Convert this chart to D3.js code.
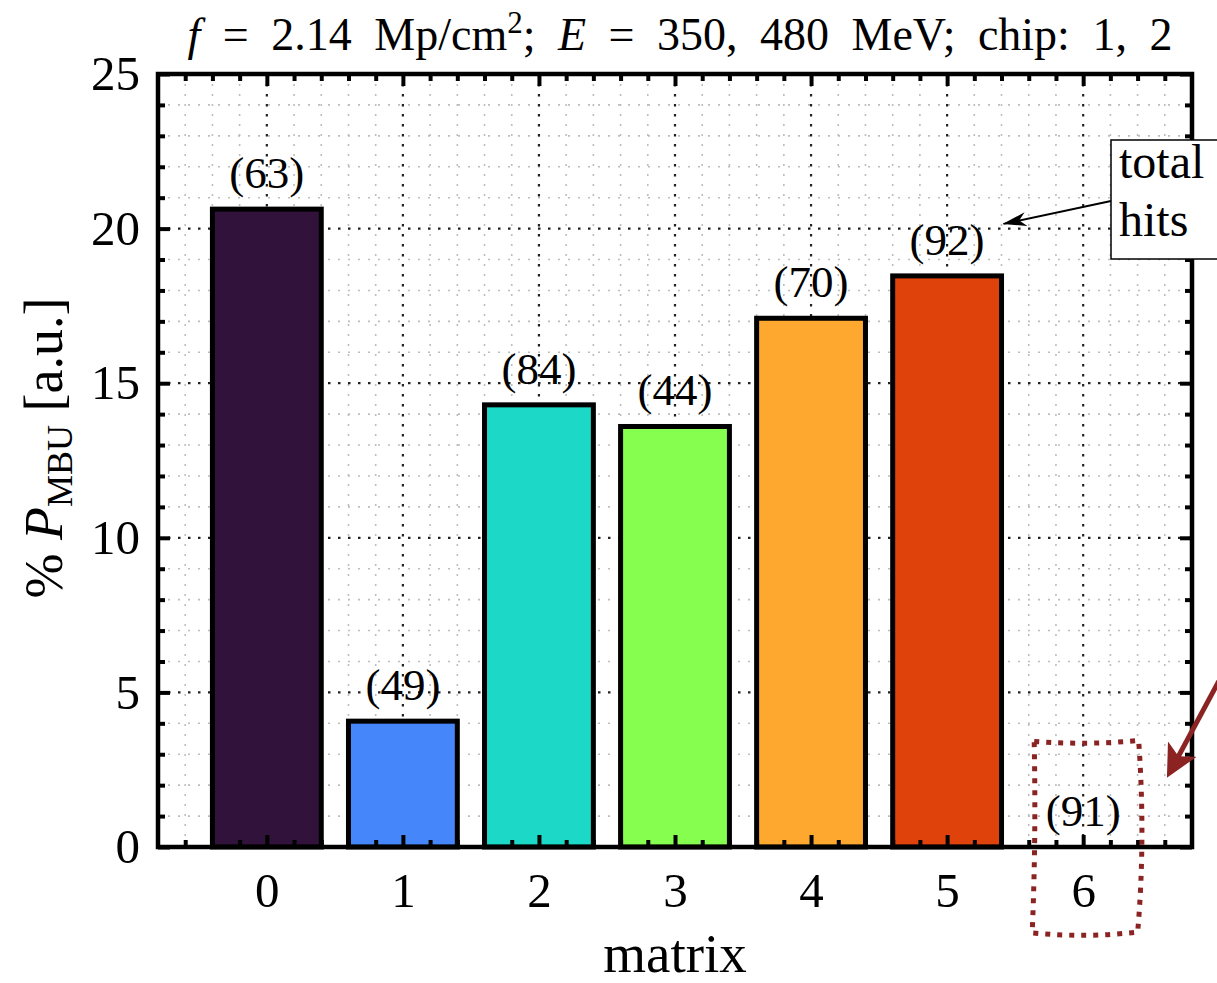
<!DOCTYPE html>
<html>
<head>
<meta charset="utf-8">
<script src="https://cdn.jsdelivr.net/npm/d3@7"></script>
<style>
  body { margin: 0; background: #fff; }
  text { font-family: "Liberation Serif", "DejaVu Serif", serif; fill: #000; }
</style>
</head>
<body>
<div id="chart"></div>
<script>
// Data
const matrices = [0, 1, 2, 3, 4, 5, 6];
const pMbu = [20.63, 4.07, 14.3, 13.6, 17.1, 18.47, 0];
const totalHits = [63, 49, 84, 44, 70, 92, 91];
const barColors = ["#30123b", "#4686fb", "#1bd9c6", "#86fe4f", "#fea82f", "#e0420c", "#7a0403"];
const yTicks = [0, 5, 10, 15, 20, 25];

const W = 1217, H = 983;
const margin = { top: 74, right: 25, bottom: 136, left: 158 };
const width = W - margin.left - margin.right;
const height = H - margin.top - margin.bottom;

const svg = d3.select("#chart")
  .append("svg")
  .attr("width", W)
  .attr("height", H);

const g = svg.append("g")
  .attr("transform", `translate(${margin.left},${margin.top})`);

const x = d3.scaleLinear().domain([-0.8, 6.8]).range([0, width]);
const y = d3.scaleLinear().domain([0, 25]).range([height, 0]);

const minorX = d3.range(-0.6, 6.7, 0.2).map(v => +v.toFixed(1)).filter(v => Math.abs(v - Math.round(v)) > 0.01);
const minorY = d3.range(0, 26, 1).filter(v => v % 5 !== 0);

// Grid: light minor, dark major
const grid = g.append("g");
grid.selectAll(".gx-minor").data(minorX).join("line")
  .attr("x1", d => x(d)).attr("x2", d => x(d))
  .attr("y1", 0).attr("y2", height)
  .attr("stroke", "#bdbdbd").attr("stroke-width", 1.6).attr("stroke-dasharray", "2,8");
grid.selectAll(".gy-minor").data(minorY).join("line")
  .attr("x1", 0).attr("x2", width)
  .attr("y1", d => y(d)).attr("y2", d => y(d))
  .attr("stroke", "#bdbdbd").attr("stroke-width", 1.6).attr("stroke-dasharray", "2,8");
grid.selectAll(".gx-major").data(matrices).join("line")
  .attr("x1", d => x(d)).attr("x2", d => x(d))
  .attr("y1", 0).attr("y2", height)
  .attr("stroke", "#222").attr("stroke-width", 2.2).attr("stroke-dasharray", "2.5,7.5");
grid.selectAll(".gy-major").data(yTicks.slice(1, -1)).join("line")
  .attr("x1", 0).attr("x2", width)
  .attr("y1", d => y(d)).attr("y2", d => y(d))
  .attr("stroke", "#222").attr("stroke-width", 2.2).attr("stroke-dasharray", "2.5,7.5");

// Bars
const bw = 0.8;
g.selectAll(".bar").data(matrices.filter((m, i) => pMbu[i] > 0)).join("rect")
  .attr("x", d => x(d - bw / 2))
  .attr("width", x(bw) - x(0))
  .attr("y", d => y(pMbu[d]))
  .attr("height", d => y(0) - y(pMbu[d]))
  .attr("fill", d => barColors[d])
  .attr("stroke", "#000")
  .attr("stroke-width", 5);

// Total-hit labels
g.selectAll(".hits").data(matrices).join("text")
  .attr("x", d => x(d))
  .attr("y", d => y(pMbu[d]) - 21)
  .attr("text-anchor", "middle")
  .style("font-size", "45px")
  .text(d => `(${totalHits[d]})`);

// Axes (ticks pointing inward, on all four sides)
function styleAxis(sel) {
  sel.select(".domain").remove();
  sel.selectAll(".tick line").attr("stroke", "#000").attr("stroke-width", 4);
  sel.selectAll("text").style("font-size", "49px").style("font-family", "Liberation Serif, serif");
}
g.append("g").attr("transform", `translate(0,${height})`)
  .call(d3.axisBottom(x).tickValues(matrices).tickSize(-12).tickPadding(25).tickFormat(d3.format("d")))
  .call(styleAxis);
g.append("g").attr("transform", `translate(0,${height})`)
  .call(d3.axisBottom(x).tickValues(minorX).tickSize(-7).tickFormat(""))
  .call(styleAxis);
g.append("g")
  .call(d3.axisTop(x).tickValues(matrices).tickSize(-12).tickFormat(""))
  .call(styleAxis);
g.append("g")
  .call(d3.axisTop(x).tickValues(minorX).tickSize(-7).tickFormat(""))
  .call(styleAxis);
g.append("g")
  .call(d3.axisLeft(y).tickValues(yTicks).tickSize(-12).tickPadding(18).tickFormat(d3.format("d")))
  .call(styleAxis);
g.append("g")
  .call(d3.axisLeft(y).tickValues(minorY).tickSize(-7).tickFormat(""))
  .call(styleAxis);
g.append("g").attr("transform", `translate(${width},0)`)
  .call(d3.axisRight(y).tickValues(yTicks).tickSize(-12).tickFormat(""))
  .call(styleAxis);
g.append("g").attr("transform", `translate(${width},0)`)
  .call(d3.axisRight(y).tickValues(minorY).tickSize(-7).tickFormat(""))
  .call(styleAxis);

// Frame
g.append("rect")
  .attr("width", width).attr("height", height)
  .attr("fill", "none").attr("stroke", "#000").attr("stroke-width", 4.5);

// Title
const title = svg.append("text")
  .attr("x", margin.left + width / 2 + 5)
  .attr("y", 50)
  .attr("text-anchor", "middle")
  .style("font-size", "46px")
  .style("word-spacing", "11px");
title.append("tspan").style("font-style", "italic").text("f");
title.append("tspan").text(" = 2.14 Mp/cm");
title.append("tspan").attr("dy", -17).style("font-size", "31px").text("2");
title.append("tspan").attr("dy", 17).text("; ");
title.append("tspan").style("font-style", "italic").text("E");
title.append("tspan").text(" = 350, 480 MeV; chip: 1, 2");

// Axis labels
svg.append("text")
  .attr("x", margin.left + x(3))
  .attr("y", 972)
  .attr("text-anchor", "middle")
  .style("font-size", "55px")
  .text("matrix");

const yl = svg.append("text")
  .attr("transform", `translate(62,448) rotate(-90)`)
  .attr("text-anchor", "middle")
  .style("font-size", "54px");
yl.append("tspan").text("% ");
yl.append("tspan").style("font-style", "italic").text("P");
yl.append("tspan").attr("dy", 10).style("font-size", "36px").text("MBU");
yl.append("tspan").attr("dy", -10).text(" [a.u.]");

// Annotation: "total hits" box with arrow
svg.append("defs").html(`
  <marker id="blackHead" viewBox="0 0 24 14" refX="23" refY="7" markerWidth="24" markerHeight="14" markerUnits="userSpaceOnUse" orient="auto">
    <path d="M0,0 L24,7 L0,14 L7,7 Z" fill="#000"/>
  </marker>
  <marker id="redHead" viewBox="0 0 10 10" refX="8" refY="5" markerWidth="6.5" markerHeight="6.5" orient="auto">
    <path d="M0,0 L10,5 L0,10 L2.5,5 Z" fill="#8b2323"/>
  </marker>`);

const boxX = 1111, boxY = 140;
svg.append("rect")
  .attr("x", boxX).attr("y", boxY).attr("width", 130).attr("height", 119)
  .attr("fill", "#fff").attr("stroke", "#000").attr("stroke-width", 1.5);
svg.append("text").attr("x", boxX + 8).attr("y", boxY + 38).style("font-size", "48px").text("total");
svg.append("text").attr("x", boxX + 8).attr("y", boxY + 96).style("font-size", "48px").text("hits");
svg.append("line")
  .attr("x1", boxX).attr("y1", 201)
  .attr("x2", margin.left + x(5) + 0.4 * (x(1) - x(0)) + 2)
  .attr("y2", margin.top + y(pMbu[5]) - 52)
  .attr("stroke", "#000").attr("stroke-width", 1.8)
  .attr("marker-end", "url(#blackHead)");

// Red dotted box around matrix 6
const bx0 = margin.left + x(6 - 0.36), bx1 = margin.left + x(6 + 0.43);
const by0 = margin.top + y(3.35), by1 = 935;
svg.append("path")
  .attr("d", `M${bx0},${by0 - 2} Q${(bx0 + bx1) / 2},${by0 + 2} ${bx1 - 3},${by0 - 3}
              Q${bx1 + 4},${(by0 + by1) / 2} ${bx1 - 4},${by1 - 3}
              Q${(bx0 + bx1) / 2},${by1 + 3} ${bx0 - 2},${by1 - 2}
              Q${bx0 + 2},${(by0 + by1) / 2} ${bx0},${by0 - 2} Z`)
  .attr("fill", "none").attr("stroke", "#8b2323").attr("stroke-width", 5)
  .attr("stroke-dasharray", "5,7");
svg.append("line")
  .attr("x1", 1228).attr("y1", 664)
  .attr("x2", 1170).attr("y2", 772)
  .attr("stroke", "#8b2323").attr("stroke-width", 5)
  .attr("marker-end", "url(#redHead)");
</script>
</body>
</html>
